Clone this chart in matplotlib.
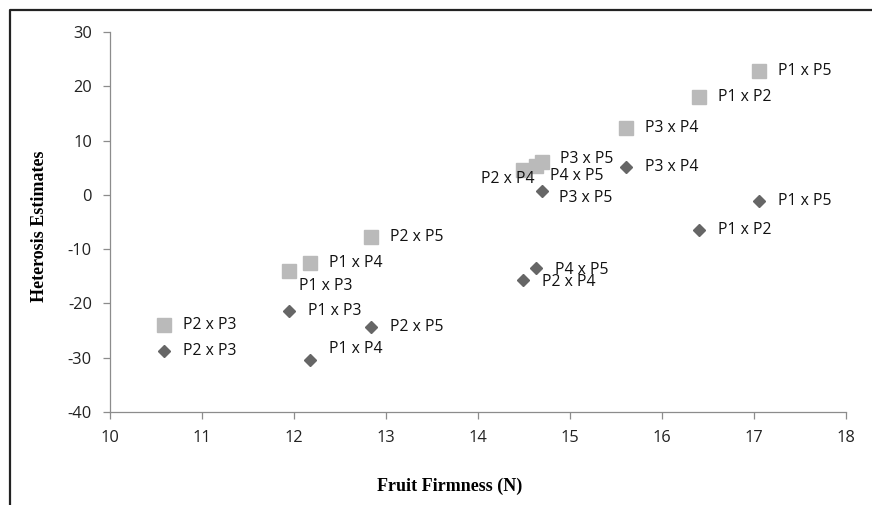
import matplotlib
matplotlib.use("Agg")
from matplotlib import pyplot as plt
from matplotlib.lines import Line2D

plt.rcParams["axes.unicode_minus"] = False

# crosses, firmness (N) and the two heterosis estimates
crosses = ["P2 x P3", "P1 x P3", "P1 x P4", "P2 x P5", "P2 x P4",
           "P4 x P5", "P3 x P5", "P3 x P4", "P1 x P2", "P1 x P5"]
firmness = [10.59, 11.95, 12.17, 12.84, 14.49, 14.63, 14.70, 15.61, 16.40, 17.05]
het_sq = [-24.0, -14.0, -12.6, -7.7, 4.5, 5.4, 6.0, 12.3, 18.0, 22.8]
het_dm = [-28.8, -21.4, -30.5, -24.3, -15.7, -13.4, 0.8, 5.2, -6.4, -1.2]

# label offsets in pixels (dx, dy up), default to the right of the marker
off_sq = {"P1 x P3": (10, -15), "P2 x P4": (-42, -9), "P4 x P5": (14, -10),
          "P3 x P5": (18, 3)}
off_dm = {"P1 x P4": (19, 11), "P3 x P5": (17, -7), "P4 x P5": (19, -2),
          "P2 x P4": (19, -2)}

xticks = [10, 11, 12, 13, 14, 15, 16, 17, 18]
yticks = [-40, -30, -20, -10, 0, 10, 20, 30]

W, H = 872, 505
fig = plt.figure(figsize=(W / 100, H / 100), dpi=100)
ax = fig.add_axes([110 / W, (H - 412) / H, (846 - 110) / W, (412 - 32) / H])

ax.plot(firmness, het_sq, "s", color="#bababa", markersize=10.5, linestyle="none")
ax.plot(firmness, het_dm, "D", color="#666666", markersize=6.6, linestyle="none")

lab_font = dict(family="Open Sans", size=11.3, color="#111111")
for name, x, y in zip(crosses, firmness, het_sq):
    dx, dy = off_sq.get(name, (19, 0))
    ax.annotate(name, (x, y), xytext=(dx * 0.72, dy * 0.72), textcoords="offset points",
                ha="left", va="center", **lab_font)
for name, x, y in zip(crosses, firmness, het_dm):
    dx, dy = off_dm.get(name, (19, 0))
    ax.annotate(name, (x, y), xytext=(dx * 0.72, dy * 0.72), textcoords="offset points",
                ha="left", va="center", **lab_font)

ax.set_xlim(10, 18)
ax.set_ylim(-40, 30)
ax.set_xticks(xticks)
ax.set_yticks(yticks)
for s in ["top", "right"]:
    ax.spines[s].set_visible(False)
for s in ["left", "bottom"]:
    ax.spines[s].set_color("#8c8c8c")
    ax.spines[s].set_linewidth(0.9)
ax.tick_params(direction="out", length=5, width=0.9, color="#8c8c8c",
               labelsize=11.8, labelcolor="#222222", pad=8)
for t in ax.get_xticklabels() + ax.get_yticklabels():
    t.set_fontfamily("Open Sans")

fig.text(450 / W, 1 - 486 / H, "Fruit Firmness (N)", ha="center", va="center",
         family="Liberation Serif", weight="bold", size=13)
fig.text(40 / W, 1 - 226 / H, "Heterosis Estimates", ha="center", va="center",
         rotation=90, family="Liberation Serif", weight="bold", size=13)

# outer frame (left and top edges of the original chart box)
fig.add_artist(Line2D([9.5 / W, 9.5 / W, 1], [0, 1 - 9.5 / H, 1 - 9.5 / H],
                      transform=fig.transFigure, color="#222222", linewidth=1.6))

fig.savefig("out.png", dpi=100)
